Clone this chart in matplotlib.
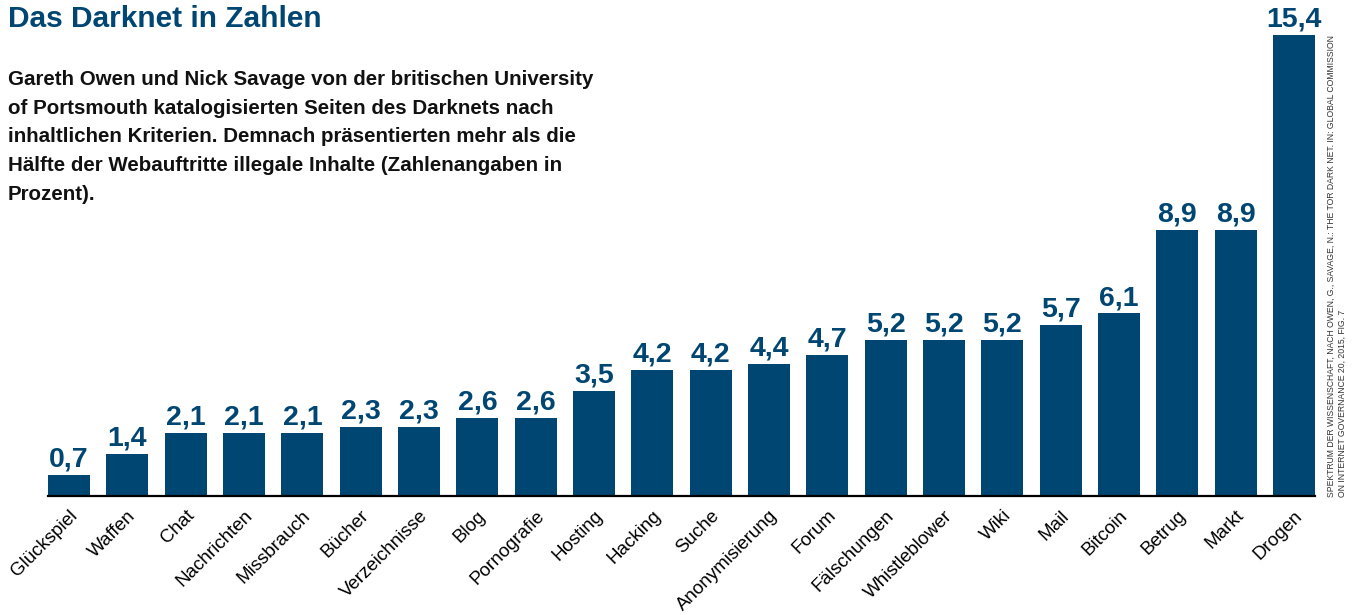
import matplotlib.pyplot as plt

# Daten: Anteil der Darknet-Seiten nach Kategorie (Prozent)
kategorien = ["Glückspiel", "Waffen", "Chat", "Nachrichten", "Missbrauch", "Bücher",
              "Verzeichnisse", "Blog", "Pornografie", "Hosting", "Hacking", "Suche",
              "Anonymisierung", "Forum", "Fälschungen", "Whistleblower", "Wiki",
              "Mail", "Bitcoin", "Betrug", "Markt", "Drogen"]
werte = [0.7, 1.4, 2.1, 2.1, 2.1, 2.3, 2.3, 2.6, 2.6, 3.5, 4.2, 4.2,
         4.4, 4.7, 5.2, 5.2, 5.2, 5.7, 6.1, 8.9, 8.9, 15.4]

BLAU = "#004673"
plt.rcParams['font.family'] = ['Liberation Sans', 'DejaVu Sans']

fig = plt.figure(figsize=(13.59, 6.15), dpi=100)
ax = fig.add_axes([48 / 1359, 119 / 615, 1267 / 1359, 461 / 615])

x = range(len(werte))
bars = ax.bar(x, werte, width=0.72, color=BLAU)
for b, v in zip(bars, werte):
    ax.text(b.get_x() + b.get_width() / 2, v + 0.08, f"{v:.1f}".replace(".", ","),
            ha="center", va="bottom", fontsize=20.5, fontweight="bold", color=BLAU,
            clip_on=False)

ax.set_xlim(-0.36, len(werte) - 0.64)
ax.set_ylim(0, 15.4)
ax.set_xticks(list(x))
ax.set_xticklabels(kategorien, rotation=45, ha="right", va="top",
                   rotation_mode="anchor", fontsize=13.5)
ax.tick_params(axis="x", length=0, pad=8)
ax.set_yticks([])
for s in ["top", "right", "left"]:
    ax.spines[s].set_visible(False)
ax.spines["bottom"].set_linewidth(1.6)

fig.text(8 / 1359, 1 - 5 / 615, "Das Darknet in Zahlen", ha="left", va="top",
         fontsize=21.5, fontweight="bold", color=BLAU)
fig.text(8 / 1359, 1 - 70 / 615,
         "Gareth Owen und Nick Savage von der britischen University\n"
         "of Portsmouth katalogisierten Seiten des Darknets nach\n"
         "inhaltlichen Kriterien. Demnach präsentierten mehr als die\n"
         "Hälfte der Webauftritte illegale Inhalte (Zahlenangaben in\n"
         "Prozent).",
         ha="left", va="top", fontsize=14.8, fontweight="bold", color="#111111",
         linespacing=1.65)

fig.text(1327 / 1359, 1 - 497 / 615,
         "SPEKTRUM DER WISSENSCHAFT, NACH OWEN, G., SAVAGE, N.: THE TOR DARK NET. IN: GLOBAL COMMISSION\n"
         "ON INTERNET GOVERNANCE 20, 2015, FIG. 7",
         rotation=90, rotation_mode="anchor", ha="left", va="top",
         fontsize=6.2, color="#333333", linespacing=1.2)

fig.savefig("out.png", dpi=100)
